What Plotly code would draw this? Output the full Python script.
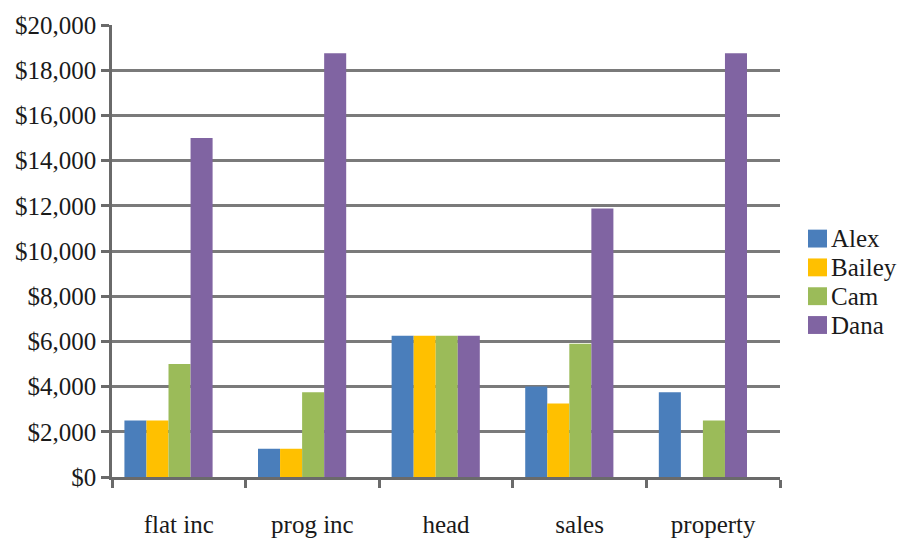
import plotly.graph_objects as go

categories = ["flat inc", "prog inc", "head", "sales", "property"]
alex = [2500, 1250, 6250, 4000, 3750]
bailey = [2500, 1250, 6250, 3250, 0]
cam = [5000, 3750, 6250, 5900, 2500]
dana = [15000, 18750, 6250, 11875, 18750]
series_names = ["Alex", "Bailey", "Cam", "Dana"]
series_values = [alex, bailey, cam, dana]
colors = ["#4a7ebb", "#ffc000", "#9bbb59", "#8064a2"]
y_ticks = list(range(0, 20001, 2000))
y_tick_text = ["$" + f"{v:,}" for v in y_ticks]

FONT = "Liberation Serif, Times New Roman, serif"
TXT = "#1a1a1a"
W, H = 902, 550
L, R, T, B = 112, 122, 23, 72
pw, ph = W - L - R, H - T - B
AXC = "#6a6a6a"

fig = go.Figure()
for name, vals, col in zip(series_names, series_values, colors):
    fig.add_trace(go.Bar(x=categories, y=vals, name=name, marker_color=col,
                         marker_line_width=0, showlegend=False,
                         xaxis="x", yaxis="y"))

# invisible trace carrying the category labels axis
fig.add_trace(go.Scatter(x=categories, y=[0] * len(categories), mode="markers",
                         marker=dict(opacity=0), showlegend=False,
                         hoverinfo="skip", xaxis="x2", yaxis="y"))

# custom legend (squares + labels) placed to the right of the plot
shapes, annotations = [], []
for i, (name, col) in enumerate(zip(series_names, colors)):
    cy = 238 + i * 29
    x0p, x1p = (808 - L) / pw, (827 - L) / pw
    y0p, y1p = (H - B - (cy + 9)) / ph, (H - B - (cy - 9)) / ph
    shapes.append(dict(type="rect", xref="paper", yref="paper",
                       x0=x0p, x1=x1p, y0=y0p, y1=y1p,
                       fillcolor=col, line=dict(width=0)))
    annotations.append(dict(xref="paper", yref="paper", x=(829 - L) / pw,
                            y=(H - B - cy) / ph, xanchor="left", yanchor="middle",
                            text=name, showarrow=False,
                            font=dict(family=FONT, size=25, color=TXT)))

fig.update_layout(
    width=W, height=H,
    margin=dict(l=L, r=R, t=T, b=B),
    paper_bgcolor="white", plot_bgcolor="white",
    barmode="group", bargap=0.34, bargroupgap=0,
    font=dict(family=FONT, size=25, color=TXT),
    showlegend=False,
    shapes=shapes, annotations=annotations,
    xaxis=dict(type="category", categoryarray=categories,
               range=[-0.423, 4.577], showline=False, ticks="",
               showticklabels=False, showgrid=False, zeroline=False),
    xaxis2=dict(type="category", categoryarray=categories, overlaying="x",
                anchor="y", side="bottom", range=[-0.5, 4.5],
                showline=True, linecolor=AXC, linewidth=2.5,
                ticks="outside", tickson="boundaries", ticklen=8,
                tickcolor=AXC, tickwidth=2.5, showgrid=False,
                ticklabelstandoff=23,
                tickfont=dict(family=FONT, size=25, color=TXT)),
)
fig.update_yaxes(
    range=[0, 20000], tickvals=y_ticks, ticktext=y_tick_text,
    showgrid=True, gridcolor="#7a7a7a", gridwidth=2.5,
    showline=True, linecolor=AXC, linewidth=2.5,
    ticks="outside", ticklen=8, tickcolor=AXC, tickwidth=2.5,
    zeroline=False, tickfont=dict(family=FONT, size=25, color=TXT),
)

fig.write_html("out.html")
